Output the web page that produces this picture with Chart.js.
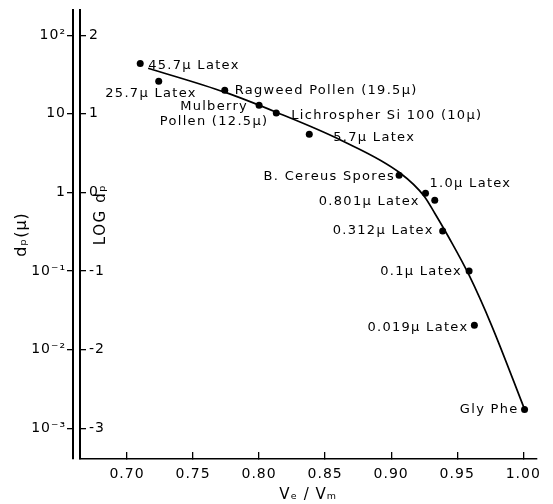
<!DOCTYPE html>
<html>
<head>
<meta charset="utf-8">
<script src="https://cdn.jsdelivr.net/npm/chart.js@4.4.1/dist/chart.umd.min.js"></script>
<style>
  html, body { margin: 0; padding: 0; background: #fff; }
</style>
</head>
<body>
<canvas id="myChart" width="553" height="504"></canvas>
<script>
// samples (dots)
const samples = [
  "45.7μ Latex",
  "25.7μ Latex",
  "Ragweed Pollen (19.5μ)",
  "Mulberry\nPollen (12.5μ)",
  "Lichrospher Si 100 (10μ)",
  "5.7μ Latex",
  "B. Cereus Spores",
  "1.0μ Latex",
  "0.801μ Latex",
  "0.312μ Latex",
  "0.1μ Latex",
  "0.019μ Latex",
  "Gly Phe",
];
const veVm = [0.710, 0.724, 0.774, 0.800, 0.813, 0.838, 0.906, 0.926, 0.933, 0.939, 0.959, 0.963, 1.001];
const logDp = [1.64, 1.415, 1.30, 1.11, 1.01, 0.74, 0.22, -0.01, -0.10, -0.49, -1.00, -1.69, -2.76];

// the drawn calibration curve
const curveVeVm = [0.716, 0.774, 0.813, 0.862, 0.907, 0.925, 0.933, 0.944, 0.959, 0.976, 1.001];
const curveLogDp = [1.580, 1.275, 1.020, 0.664, 0.244, -0.048, -0.265, -0.583, -1.053, -1.690, -2.758];

// axis ticks
const logTicks = [-3, -2, -1, 0, 1, 2];
const dpTickLabels = ["10⁻³", "10⁻²", "10⁻¹", "1", "10", "10²"];
const veVmTicks = [0.70, 0.75, 0.80, 0.85, 0.90, 0.95, 1.00];

// where each label sits relative to its dot
const labelPlacement = [
  { dx: 8, dy: 2, align: "left" },
  { dx: 38, dy: 12, align: "right" },
  { dx: 10, dy: 0, align: "left" },
  { dx: -45, dy: 1, align: "center" },
  { dx: 15, dy: 3, align: "left" },
  { dx: 24, dy: 3, align: "left" },
  { dx: -4, dy: 1, align: "right" },
  { dx: 4, dy: -10, align: "left" },
  { dx: -15, dy: 1, align: "right" },
  { dx: -9, dy: 0, align: "right" },
  { dx: -7, dy: 1, align: "right" },
  { dx: -6, dy: 2, align: "right" },
  { dx: -6, dy: 0, align: "right" },
];

const FONT = "'DejaVu Sans', sans-serif";
Chart.defaults.font.family = FONT;
Chart.defaults.color = "#000";

const spacingPlugin = {
  id: "spacing",
  beforeDraw(chart) {
    chart.ctx.letterSpacing = "1px";
  },
};

const annotatePlugin = {
  id: "annotate",
  afterDatasetsDraw(chart) {
    const { ctx, chartArea, scales: { x, y } } = chart;
    ctx.save();
    ctx.fillStyle = "#000";
    ctx.font = "13px " + FONT;
    ctx.letterSpacing = "1.3px";
    ctx.textBaseline = "middle";
    samples.forEach((name, i) => {
      const p = labelPlacement[i];
      const px = x.getPixelForValue(veVm[i]) + p.dx;
      const py = y.getPixelForValue(logDp[i]) + p.dy;
      ctx.textAlign = p.align;
      name.split("\n").forEach((line, j) => ctx.fillText(line, px, py + j * 15));
    });
    // title of the inner (log) axis, sits inside the plot
    ctx.font = "15px " + FONT;
    ctx.letterSpacing = "1.6px";
    ctx.textAlign = "center";
    ctx.translate(chartArea.left + 21, y.getPixelForValue(-0.28));
    ctx.rotate(-Math.PI / 2);
    ctx.fillText("LOG dₚ", 0, 0);
    ctx.restore();
  },
};

// y axes: fixed widths and no extra label padding above/below
const fitLeft = (width) => (s) => {
  s.width = width;
  s.paddingTop = 0;
  s.paddingBottom = 0;
};

const points = veVm.map((v, i) => ({ x: v, y: logDp[i] }));
const curve = curveVeVm.map((v, i) => ({ x: v, y: curveLogDp[i] }));

const config = {
  type: "scatter",
  data: {
    datasets: [
      {
        label: "Samples",
        data: points,
        backgroundColor: "#000",
        borderColor: "#000",
        pointRadius: 3.5,
        pointBorderWidth: 0,
      },
      {
        label: "Curve",
        data: curve,
        showLine: true,
        borderColor: "#000",
        borderWidth: 1.7,
        pointRadius: 0,
        cubicInterpolationMode: "monotone",
      },
    ],
  },
  options: {
    responsive: false,
    animation: false,
    layout: { padding: { top: 10, right: 6, left: 0, bottom: 0 } },
    plugins: { legend: { display: false }, tooltip: { enabled: false } },
    scales: {
      x: {
        type: "linear",
        position: "bottom",
        min: 0.6644,
        max: 1.01,
        afterBuildTicks: (s) => { s.ticks = veVmTicks.map((v) => ({ value: v })); },
        afterFit: (s) => { s.height = 45; },
        ticks: {
          callback: (v) => v.toFixed(2),
          padding: 14,
          font: { size: 14 },
          maxRotation: 0,
        },
        grid: { drawOnChartArea: false, tickLength: -7, color: "#000", lineWidth: 1.3 },
        border: { color: "#000", width: 1.6 },
        title: { display: true, text: "Vₑ / Vₘ", font: { size: 15 }, padding: { top: 0, bottom: 0 } },
      },
      dp: {
        type: "linear",
        position: "left",
        weight: 1,
        min: -3.39,
        max: 2.32,
        afterBuildTicks: (s) => { s.ticks = logTicks.map((v) => ({ value: v })); },
        afterFit: fitLeft(73),
        ticks: {
          callback: (v) => dpTickLabels[logTicks.indexOf(v)],
          padding: 1,
          font: { size: 14 },
        },
        grid: { drawOnChartArea: false, tickLength: 6, color: "#000", lineWidth: 1.3 },
        border: { color: "#000", width: 2 },
        title: { display: true, text: "dₚ(μ)", font: { size: 16 }, padding: { top: 12, bottom: 0 } },
      },
      y: {
        type: "linear",
        position: "left",
        weight: 0,
        min: -3.39,
        max: 2.32,
        afterBuildTicks: (s) => { s.ticks = logTicks.map((v) => ({ value: v })); },
        afterFit: fitLeft(7),
        ticks: {
          mirror: true,
          padding: 9,
          font: { size: 14 },
        },
        grid: { drawOnChartArea: false, tickLength: -6, color: "#000", lineWidth: 1.3 },
        border: { color: "#000", width: 2 },
      },
    },
  },
  plugins: [spacingPlugin, annotatePlugin],
};

const chart = new Chart(document.getElementById("myChart"), config);
</script>
</body>
</html>
